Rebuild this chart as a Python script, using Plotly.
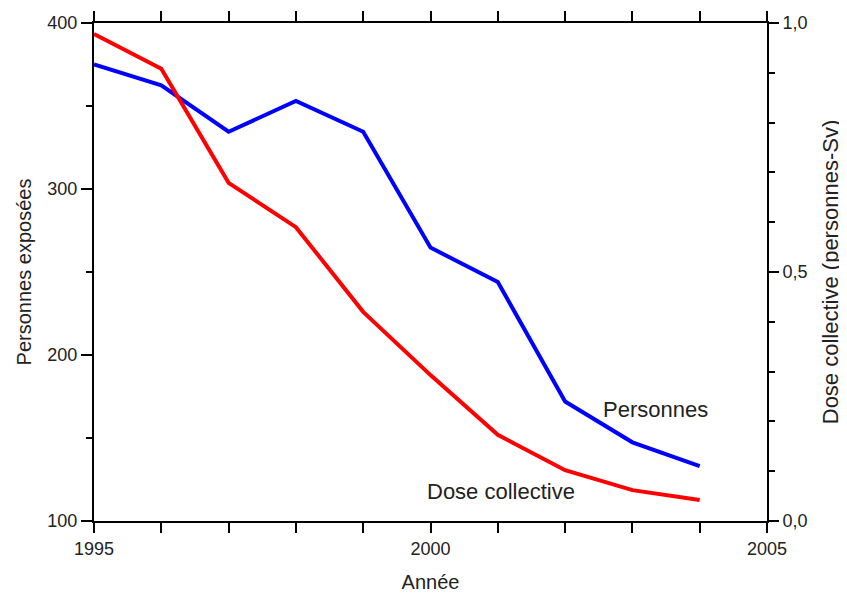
import plotly.graph_objects as go

years = [1995, 1996, 1997, 1998, 1999, 2000, 2001, 2002, 2003, 2004]
personnes = [375, 362.5, 334.5, 353, 334.5, 264.7, 244, 172, 147.4, 133]
dose = [0.978, 0.908, 0.679, 0.590, 0.420, 0.293, 0.173, 0.102, 0.062, 0.042]

x_tickvals = [1995, 2000, 2005]
x_ticktext = ["1995", "2000", "2005"]
y_tickvals = [100, 200, 300, 400]
y2_tickvals = [0.0, 0.5, 1.0]
y2_ticktext = ["0,0", "0,5", "1,0"]

FONT = "Liberation Sans, Arial, sans-serif"

fig = go.Figure()
fig.add_trace(go.Scatter(x=years, y=personnes, mode="lines",
                         line=dict(color="#0000FF", width=4), yaxis="y"))
fig.add_trace(go.Scatter(x=years, y=dose, mode="lines",
                         line=dict(color="#FF0000", width=4), yaxis="y2"))

axis_common = dict(showgrid=False, zeroline=False, showline=True,
                   linecolor="black", linewidth=2, ticks="outside",
                   tickcolor="black", tickwidth=2, automargin=False,
                   tickfont=dict(family=FONT, size=18, color="#222"))

# page body has an 8px default margin, so the figure is sized to fit inside it
fig.update_layout(
    width=839, height=585,
    margin=dict(l=86, r=80, t=15, b=72),
    paper_bgcolor="white", plot_bgcolor="white",
    showlegend=False,
    font=dict(family=FONT, color="#222"),
    xaxis=dict(range=[1995, 2005], tickvals=x_tickvals, ticktext=x_ticktext,
               ticklen=10, mirror="allticks", ticklabelstandoff=0,
               minor=dict(dtick=1, tick0=1995, ticks="outside", ticklen=5,
                          tickwidth=2, tickcolor="black", showgrid=False),
               title=dict(text="Année", font=dict(family=FONT, size=20, color="#222"), standoff=26),
               **axis_common),
    yaxis=dict(range=[100, 400], tickvals=y_tickvals, ticklen=11,
               minor=dict(dtick=50, tick0=100, ticks="outside", ticklen=6,
                          tickwidth=2, tickcolor="black", showgrid=False),
               title=dict(text="Personnes exposées", font=dict(family=FONT, size=20, color="#222"), standoff=10),
               **axis_common),
    yaxis2=dict(range=[0, 1], overlaying="y", side="right",
                tickvals=y2_tickvals, ticktext=y2_ticktext, ticklen=10,
                minor=dict(dtick=0.1, tick0=0, ticks="outside", ticklen=6,
                           tickwidth=2, tickcolor="black", showgrid=False),
                title=dict(text="Dose collective (personnes-Sv)", font=dict(family=FONT, size=22, color="#222"), standoff=16),
                **axis_common),
    annotations=[
        dict(x=2002.53, y=167, xref="x", yref="y", text="Personnes", showarrow=False,
             xanchor="left", yanchor="middle", font=dict(family=FONT, size=22, color="#222")),
        dict(x=1999.92, y=0.060, xref="x", yref="y2", text="Dose collective", showarrow=False,
             xanchor="left", yanchor="middle", font=dict(family=FONT, size=22, color="#222")),
    ],
)

fig.write_html("out.html")
